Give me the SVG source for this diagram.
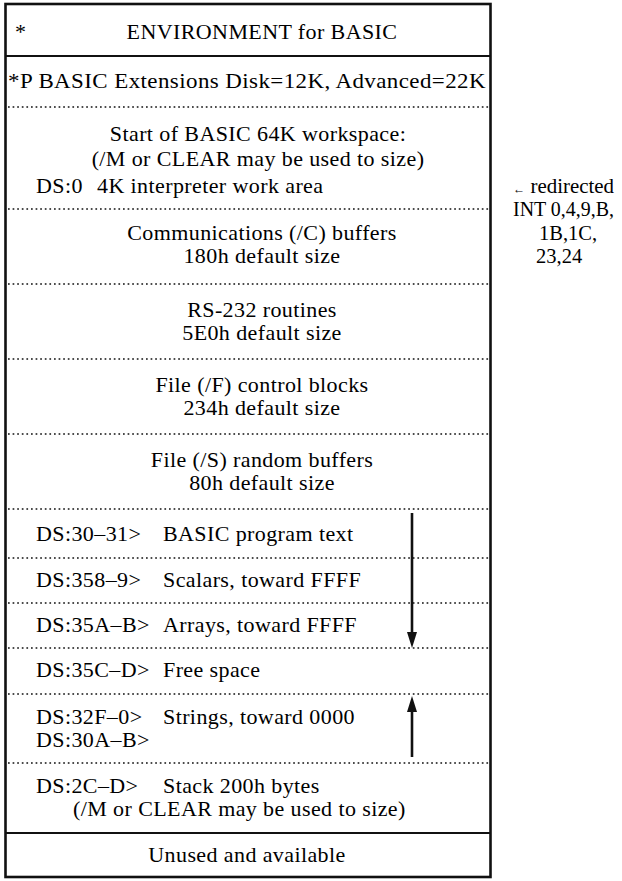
<svg xmlns="http://www.w3.org/2000/svg" width="622" height="881" viewBox="0 0 622 881">
<style>
text{font-family:"Liberation Serif","Times New Roman",serif;font-size:22px;fill:#000;letter-spacing:0.4px}
.c{text-anchor:middle}
.sep{stroke:#111;stroke-width:2.2;fill:none}
.dot{stroke:#111;stroke-width:1.7;stroke-dasharray:1.7 2.9;fill:none}
.arr{stroke:#111;stroke-width:2.6;fill:none}
.side{letter-spacing:0;font-size:20.5px}
</style>
<rect x="5.5" y="4" width="485" height="873" fill="#fff" stroke="#111" stroke-width="2.6"/>
<g id="connectors">
<line class="sep" x1="5" y1="56" x2="491" y2="56"/>
<line class="sep" x1="5" y1="833" x2="491" y2="833"/>
<line class="dot" x1="8" y1="107" x2="489" y2="107"/>
<line class="dot" x1="8" y1="209" x2="489" y2="209"/>
<line class="dot" x1="8" y1="284" x2="489" y2="284"/>
<line class="dot" x1="8" y1="359" x2="489" y2="359"/>
<line class="dot" x1="8" y1="434" x2="489" y2="434"/>
<line class="dot" x1="8" y1="509" x2="489" y2="509"/>
<line class="dot" x1="8" y1="558" x2="489" y2="558"/>
<line class="dot" x1="8" y1="603" x2="489" y2="603"/>
<line class="dot" x1="8" y1="648" x2="489" y2="648"/>
<line class="dot" x1="8" y1="694" x2="489" y2="694"/>
<line class="dot" x1="8" y1="763" x2="489" y2="763"/>
<path d="M412,513 L412,633" class="arr"/>
<path d="M407,632 L412,648 L417,632 Z" fill="#111"/>
<path d="M412,757 L412,711" class="arr"/>
<path d="M407,712 L412,696 L417,712 Z" fill="#111"/>
</g>
<g id="title">
<text x="15" y="39">*</text>
<text class="c" x="262" y="39">ENVIRONMENT for BASIC</text>
</g>
<g id="extensions">
<text x="8" y="88" textLength="478" lengthAdjust="spacingAndGlyphs">*P BASIC Extensions Disk=12K, Advanced=22K</text>
</g>
<g id="workspace">
<text class="c" x="258" y="141">Start of BASIC 64K workspace:</text>
<text class="c" x="258" y="166">(/M or CLEAR may be used to size)</text>
<text x="36" y="193">DS:0</text>
<text x="97" y="193">4K interpreter work area</text>
</g>
<g id="comm">
<text class="c" x="262" y="240">Communications (/C) buffers</text>
<text class="c" x="262" y="263">180h default size</text>
</g>
<g id="rs232">
<text class="c" x="262" y="317">RS-232 routines</text>
<text class="c" x="262" y="340">5E0h default size</text>
</g>
<g id="filef">
<text class="c" x="262" y="392">File (/F) control blocks</text>
<text class="c" x="262" y="415">234h default size</text>
</g>
<g id="files">
<text class="c" x="262" y="467">File (/S) random buffers</text>
<text class="c" x="262" y="490">80h default size</text>
</g>
<g id="program">
<text x="36" y="541">DS:30–31&gt;</text>
<text x="163" y="541">BASIC program text</text>
</g>
<g id="scalars">
<text x="36" y="587">DS:358–9&gt;</text>
<text x="163" y="587">Scalars, toward FFFF</text>
</g>
<g id="arrays">
<text x="36" y="632">DS:35A–B&gt;</text>
<text x="163" y="632">Arrays, toward FFFF</text>
</g>
<g id="free">
<text x="36" y="677">DS:35C–D&gt;</text>
<text x="163" y="677">Free space</text>
</g>
<g id="strings">
<text x="36" y="724">DS:32F–0&gt;</text>
<text x="163" y="724">Strings, toward 0000</text>
<text x="36" y="747">DS:30A–B&gt;</text>
</g>
<g id="stack">
<text x="36" y="793">DS:2C–D&gt;</text>
<text x="163" y="793">Stack 200h bytes</text>
<text x="73" y="816">(/M or CLEAR may be used to size)</text>
</g>
<g id="unused">
<text class="c" x="247" y="862">Unused and available</text>
</g>
<g id="redirected">
<text class="side" x="513" y="193" textLength="101" lengthAdjust="spacingAndGlyphs"><tspan font-size="12">←</tspan> redirected</text>
<text class="side" x="513" y="216" textLength="101" lengthAdjust="spacingAndGlyphs">INT 0,4,9,B,</text>
<text class="side" x="539" y="240">1B,1C,</text>
<text class="side" x="536" y="263">23,24</text>
</g>
</svg>
